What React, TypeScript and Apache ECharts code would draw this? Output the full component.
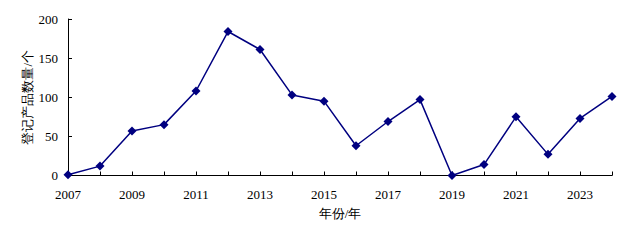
import React, { useEffect, useRef } from "react";
import * as echarts from "echarts";

const years = ["2007","2008","2009","2010","2011","2012","2013","2014","2015","2016","2017","2018","2019","2020","2021","2022","2023","2024"];
const counts = [1, 12, 57, 65, 108, 184, 161, 103, 95, 38, 69, 97, 0, 14, 75, 27, 73, 101];
const yTicks = [0, 50, 100, 150, 200];

export default function App() {
  const ref = useRef<HTMLDivElement>(null);
  useEffect(() => {
    if (!ref.current) return;
    const chart = echarts.init(ref.current, null, { renderer: "svg" });
    const font = "Liberation Serif";
    chart.setOption({
      animation: false,
      grid: { left: 68, right: 24, top: 19, bottom: 66.5 },
      xAxis: {
        type: "category",
        data: years,
        boundaryGap: false,
        name: "年份/年",
        nameLocation: "middle",
        nameGap: 31,
        nameTextStyle: { fontFamily: font, fontSize: 13, color: "#000" },
        axisLine: { lineStyle: { color: "#000", width: 1 } },
        axisTick: { show: true, inside: true, length: 4, interval: 0, lineStyle: { color: "#000" } },
        axisLabel: { interval: 1, margin: 12, fontFamily: font, fontSize: 13, color: "#000" },
        splitLine: { show: false },
      },
      yAxis: {
        type: "value",
        min: yTicks[0],
        max: yTicks[yTicks.length - 1],
        interval: 50,
        name: "登记产品数量/个",
        nameLocation: "middle",
        nameGap: 34,
        nameMoveOverlap: false,
        nameTextStyle: { fontFamily: font, fontSize: 13, color: "#000" },
        axisLine: { show: true, lineStyle: { color: "#000", width: 1 } },
        axisTick: { show: true, inside: true, length: 4, lineStyle: { color: "#000" } },
        axisLabel: { margin: 10, fontFamily: font, fontSize: 13, color: "#000" },
        splitLine: { show: false },
      },
      series: [
        {
          type: "line",
          data: counts,
          symbol: "diamond",
          symbolSize: 9,
          lineStyle: { color: "#000080", width: 1.5 },
          itemStyle: { color: "#000080" },
        },
      ],
    });
    return () => chart.dispose();
  }, []);
  return <div ref={ref} style={{ width: 636, height: 242, position: "absolute", left: 0, top: 0 }} />;
}
